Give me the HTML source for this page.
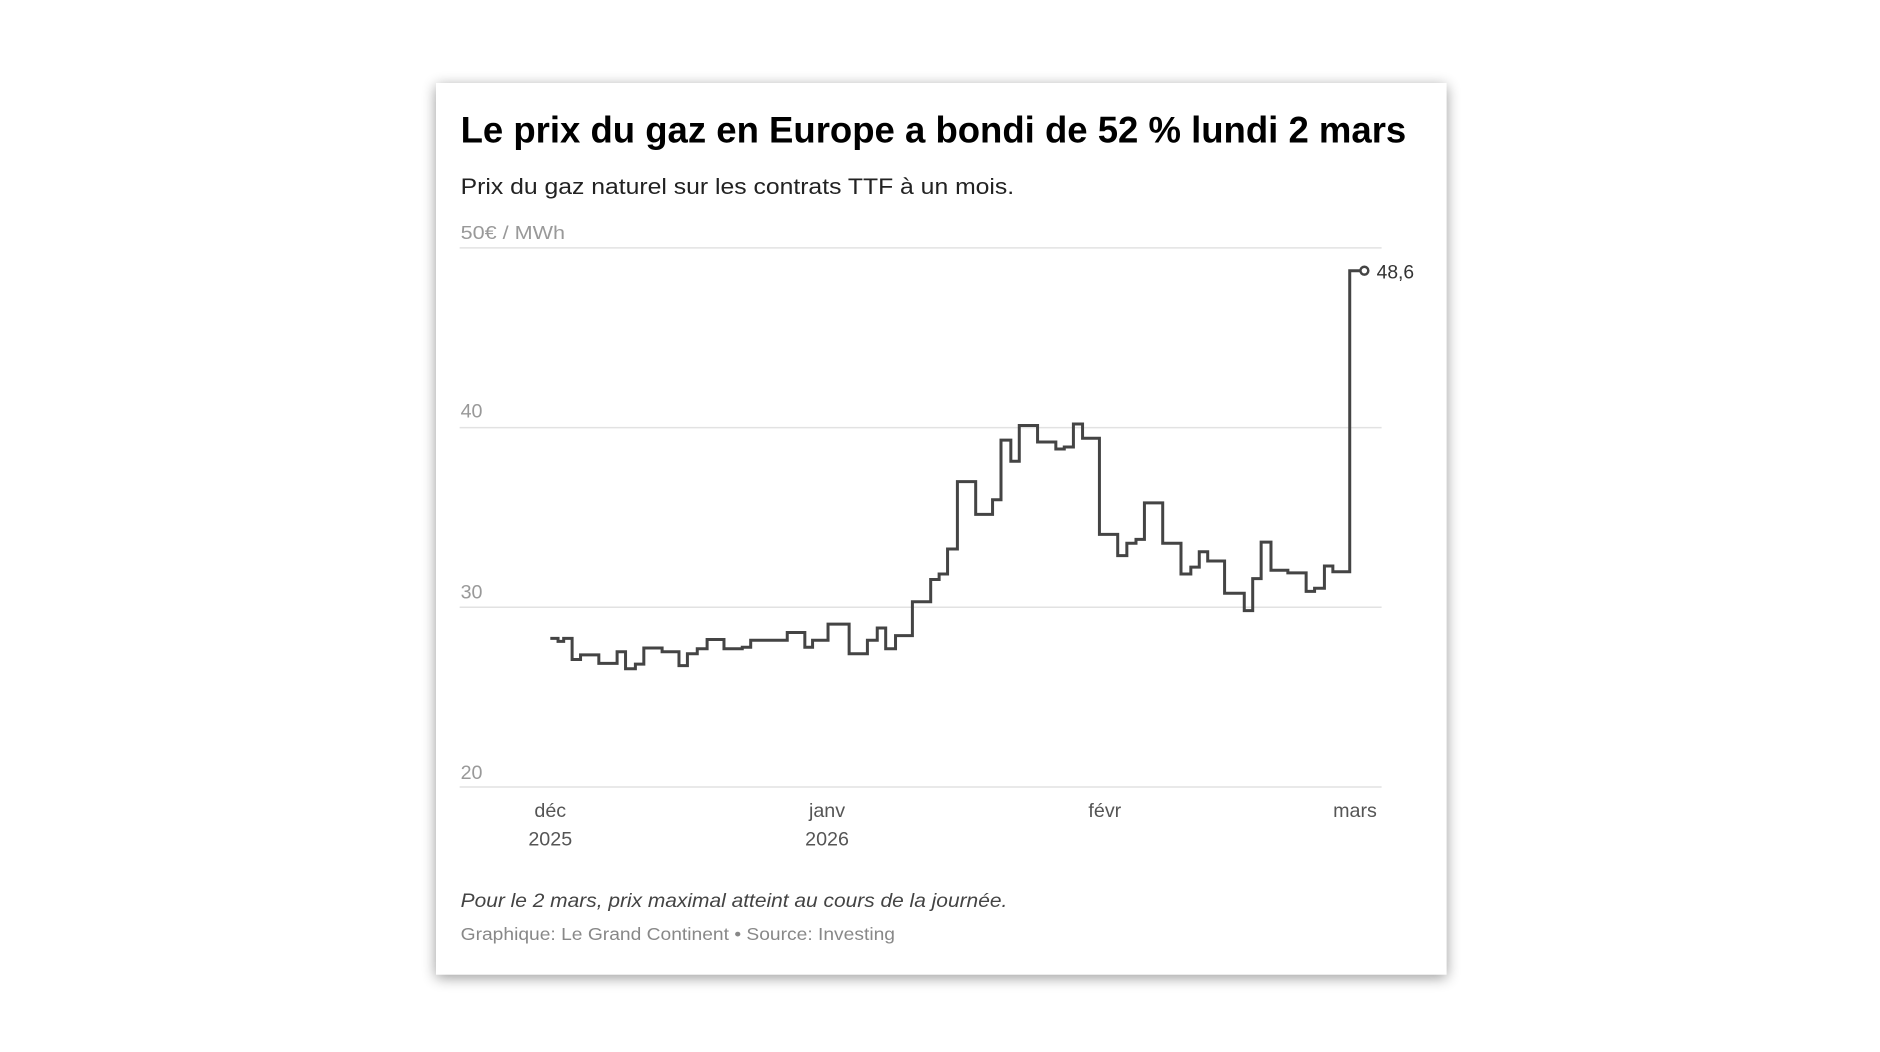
<!DOCTYPE html>
<html><head><meta charset="utf-8"><style>
html,body{margin:0;padding:0;background:#fff;}
svg{display:block;}
text{font-family:"Liberation Sans",sans-serif;}
</style></head><body>
<svg width="1880" height="1052" viewBox="0 0 1880 1052" xmlns="http://www.w3.org/2000/svg">
<defs>
<filter id="sh" x="-10%" y="-10%" width="120%" height="120%">
<feGaussianBlur stdDeviation="7"/>
</filter>
</defs>
<g transform="translate(436,83) scale(0.985,0.993) translate(-436,-83)">
<rect x="436" y="86" width="1026" height="898" fill="#000" opacity="0.4" filter="url(#sh)"/>
<rect x="436" y="83" width="1026" height="898" fill="#fff"/>
<text x="461" y="143" font-size="37" font-weight="bold" fill="#000" textLength="960" lengthAdjust="spacingAndGlyphs">Le prix du gaz en Europe a bondi de 52 % lundi 2 mars</text>
<text x="461" y="195" font-size="22" fill="#222" textLength="562" lengthAdjust="spacingAndGlyphs">Prix du gaz naturel sur les contrats TTF à un mois.</text>
<text x="461" y="240" font-size="19" fill="#999" textLength="106" lengthAdjust="spacingAndGlyphs">50€ / MWh</text>
<g stroke="#e2e2e2" stroke-width="1.5">
<line x1="460" y1="249" x2="1396" y2="249"/>
<line x1="460" y1="430" x2="1396" y2="430"/>
<line x1="460" y1="611" x2="1396" y2="611"/>
<line x1="460" y1="792" x2="1396" y2="792"/>
</g>
<g font-size="20" fill="#999">
<text x="461" y="420">40</text>
<text x="461" y="602">30</text>
<text x="461" y="784">20</text>
</g>
<g font-size="20" fill="#555" text-anchor="middle">
<text x="552" y="822">déc</text>
<text x="552" y="851">2025</text>
<text x="833" y="822">janv</text>
<text x="833" y="851">2026</text>
<text x="1115" y="822">févr</text>
<text x="1369" y="822">mars</text>
</g>
<g transform="translate(420,400) scale(0.7138,0.3876)">
<path vector-effect="non-scaling-stroke" fill="none" stroke="#444" stroke-width="3" stroke-linejoin="miter"
d="M185,625 H196 V633 H204 V625 H216 V680 H228 V668 H254 V690 H280 V660 H292 V704 H306 V692 H318 V650 H344 V660 H368 V696 H380 V665 H394 V652 H408 V628 H432 V652 H458 V648 H470 V630 H522 V610 H547 V648 H558 V630 H580 V588 H610 V665 H636 V630 H650 V598 H662 V652 H676 V618 H700 V530 H726 V472 H738 V458 H750 V393 H764 V218 H790 V303 H814 V265 H826 V110 H840 V165 H852 V72 H878 V115 H904 V133 H916 V128 H929 V68 H942 V105 H966 V355 H992 V410 H1005 V378 H1018 V368 H1030 V273 H1056 V378 H1082 V458 H1096 V440 H1108 V400 H1120 V424 H1144 V508 H1172 V553 H1184 V470 H1196 V375 H1210 V448 H1234 V455 H1260 V503 H1272 V495 H1286 V437 H1298 V452 H1322 V-330 H1343"/>
</g>
<circle cx="1378.5" cy="272" r="4" fill="#fff" stroke="#444" stroke-width="2.5"/>
<text x="1391" y="280" font-size="20" fill="#333" textLength="38" lengthAdjust="spacingAndGlyphs">48,6</text>
<text x="461" y="913" font-size="20" font-style="italic" fill="#444" textLength="555" lengthAdjust="spacingAndGlyphs">Pour le 2 mars, prix maximal atteint au cours de la journée.</text>
<text x="461" y="946" font-size="18" fill="#888" textLength="441" lengthAdjust="spacingAndGlyphs">Graphique: Le Grand Continent • Source: Investing</text>
</g>
</svg>
</body></html>
